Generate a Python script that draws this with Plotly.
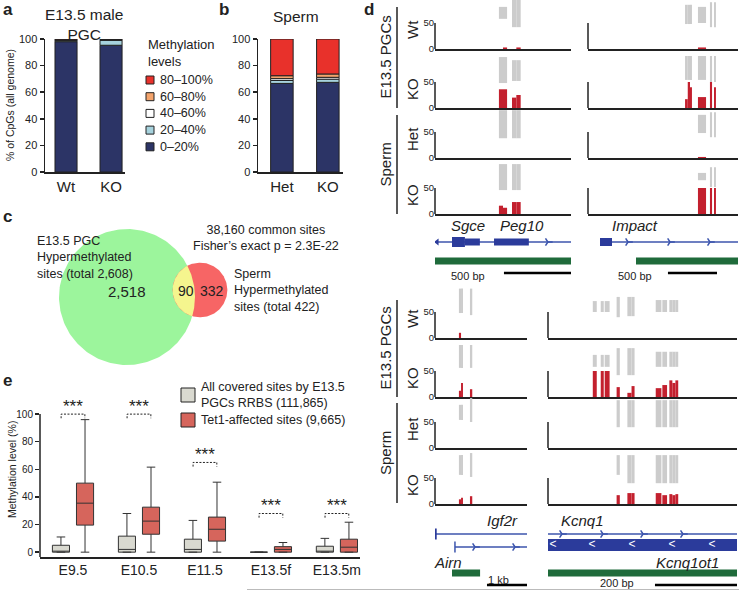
import numpy as np
import plotly.graph_objects as go

W, H = 739, 591
FONT = "Liberation Sans, Arial, sans-serif"
INK = "#222222"
BLUE = "#2b3b9b"
BLUE_LINE = "#3c55ad"
GREEN = "#1f6b3b"
TRACK_RED = "#c3202e"
TRACK_GREY = "#cccccc"

# ---------------- a / b : methylation level distribution ----------------
levels = ["0–20%", "20–40%", "40–60%", "60–80%", "80–100%"]
level_colors = ["#2c3466", "#a6d2dd", "#ffffff", "#f4a46c", "#e8312b"]
pgc_groups = ["Wt", "KO"]
pgc_pct = [[98.0, 95.3], [1.0, 3.7], [0.3, 0.4], [0.2, 0.2], [0.5, 0.4]]
sperm_groups = ["Het", "KO"]
sperm_pct = [[66.6, 67.4], [2.2, 2.4], [1.4, 1.4], [2.2, 2.5], [27.6, 26.3]]

# ---------------- c : venn ----------------
pgc_hyper_total = 2608
sperm_hyper_total = 422
hyper_overlap = 90

# ---------------- e : box plot ----------------
stages = ["E9.5", "E10.5", "E11.5", "E13.5f", "E13.5m"]
all_lo = [0, 0, 0, 0, 0]
all_q1 = [0, 0, 0, 0, 0]
all_med = [0, 2, 2, 0, 0.5]
all_q3 = [5, 11.6, 9.4, 0, 4.3]
all_hi = [11, 28, 23, 0, 10]
tet_lo = [0, 0, 0, 0, 0]
tet_q1 = [19.6, 13, 8, 0, 0]
tet_med = [35.5, 22.5, 16.6, 2, 3.6]
tet_q3 = [50, 32.6, 25.4, 4, 9.4]
tet_hi = [96, 61.6, 50.7, 7, 21.7]
sig_level = [100, 100, 65, 28, 28]
box_legend = ["All covered sites by E13.5<br>PGCs RRBS (111,865)", "Tet1-affected sites (9,665)"]

# ---------------- d : genome browser tracks ----------------
track_names = ["Wt", "KO", "Het", "KO"]
# CpG blocks (start, end) in % of window; grey = coverage, red = methylation
sgce_sites = [(47, 50), (50, 53), (56.6, 59.8), (59.8, 63)]
sgce_grey_top = [[81, 81, 100, 100], [98, 98, 92, 92], [92, 92, 92, 92], [96, 96, 96, 96]]
sgce_grey_bot = [[58, 58, 42, 42], [48, 48, 52, 52], [38, 38, 38, 38], [46, 46, 46, 46]]
sgce_red = [[0, 3, 0, 3], [36, 36, 20, 25], [0, 0, 0, 0], [16, 12, 23, 23]]

impact_sites = [(64.7, 66.5), (66.5, 68), (68, 69.3), (73.3, 78.7), (81.3, 82.7), (84, 85.3)]
impact_grey_top = [[85, 85, 85, 81, 90, 90], [100, 100, 100, 100, 100, 100],
                   [0, 0, 0, 83, 88, 88], [0, 0, 0, 79, 90, 90]]
impact_grey_bot = [[48, 48, 48, 50, 42, 42], [54, 54, 54, 54, 50, 50],
                   [0, 0, 0, 48, 40, 40], [0, 0, 0, 65, 52, 52]]
impact_red = [[0, 0, 0, 3, 0, 0], [17, 50, 40, 21, 50, 40], [0, 0, 0, 2, 0, 0], [0, 0, 0, 50, 50, 50]]

igf2r_sites = [(26, 28.3), (28.3, 30.4), (38, 40.5)]
igf2r_grey_top = [[95, 95, 95], [100, 100, 100], [83, 83, 96], [94, 94, 98]]
igf2r_grey_bot = [[48, 48, 44], [56, 56, 56], [54, 54, 50], [56, 56, 52]]
igf2r_red = [[10, 0, 0], [12, 27, 15], [0, 0, 0], [9, 12, 15]]

kcnq1_sites = [(23.7, 25.8), (27.9, 29.5), (30, 32.6), (36.3, 38), (42, 44.2), (44.2, 45.8),
               (57, 60), (60.5, 63), (64.2, 65.8), (65.8, 67.4), (67.4, 68.9)]
kcnq1_grey_top = [[71, 71, 71, 79, 79, 79, 73, 73, 73, 73, 73],
                  [81, 81, 81, 94, 94, 94, 87, 87, 87, 87, 87],
                  [0, 0, 0, 92, 92, 92, 92, 92, 92, 92, 92],
                  [0, 0, 0, 94, 94, 94, 94, 94, 94, 94, 94]]
kcnq1_grey_bot = [[50, 50, 50, 40, 42, 42, 50, 50, 50, 50, 50],
                  [58, 58, 58, 42, 42, 42, 58, 58, 58, 58, 58],
                  [0, 0, 0, 40, 40, 40, 40, 40, 40, 40, 40],
                  [0, 0, 0, 56, 40, 40, 40, 40, 40, 40, 40]]
kcnq1_red = [[0] * 11,
             [50, 50, 50, 19, 8, 21, 17, 23, 32, 27, 32],
             [0] * 11,
             [0, 0, 0, 17, 21, 21, 21, 17, 19, 17, 19]]

# gene models (start, end in % of window)
sgce_intron = [(0, 100)]
sgce_cds = [(12.5, 22)]
sgce_utr = [(22, 33), (43.4, 69)]
sgce_fwd_arrows = [83]
impact_intron = [(16, 100)]
impact_cds = [(8, 16)]
impact_fwd_arrows = [26.7, 54.7, 81.3]
igf2r_intron = [(0, 100)]
airn_intron = [(21.7, 100)]
airn_fwd_arrows = [43.5, 87]
kcnq1_intron = [(0, 100)]
kcnq1_fwd_arrows = [7.4, 29.1, 50.3, 71.4]
kcnq1ot1_exon = [(0, 100)]
kcnq1ot1_rev_arrows = [2.6, 23.3, 44.4, 65.6, 86.8]

fig = go.Figure()


def px_x(a, b):
    return [max(a / W, 0), min(b / W, 1)]


def px_y(top, bottom):
    return [max(1 - bottom / H, 0), min(1 - top / H, 1)]


n_ax = 0


def add_axes(xdom, ydom, xaxis=None, yaxis=None):
    global n_ax
    n_ax += 1
    s = "" if n_ax == 1 else str(n_ax)
    base = dict(showgrid=False, zeroline=False, visible=False, automargin=False)
    xa = dict(domain=px_x(*xdom), anchor="y" + s, **base)
    ya = dict(domain=px_y(*ydom), anchor="x" + s, **base)
    xa.update(xaxis or {})
    ya.update(yaxis or {})
    fig.update_layout({"xaxis" + s: xa, "yaxis" + s: ya})
    return "x" + s, "y" + s


def note(text, x, y, size=12, ax=None, **kw):
    if ax is None:
        d = dict(xref="paper", yref="paper", x=x / W, y=1 - y / H)
    else:
        d = dict(xref=ax[0], yref=ax[1], x=x, y=y)
    d.update(dict(text=text, showarrow=False, xanchor="center", yanchor="middle",
                  font=dict(size=size, color=INK, family=FONT)))
    d.update(kw)
    fig.add_annotation(**d)


def legend_box(xdom, ydom, names, colors, ys, x_sym, x_txt, size, fs):
    # hand-made legend: squares + labels, axis in pixel units
    ax = add_axes(xdom, ydom, dict(range=list(xdom)), dict(range=[ydom[1], ydom[0]]))
    fig.add_scatter(x=[x_sym] * len(ys), y=ys, mode="markers",
                    marker=dict(symbol="square", size=size, color=colors, line=dict(color=INK, width=1)),
                    xaxis=ax[0], yaxis=ax[1], showlegend=False, hoverinfo="skip")
    for nm, y in zip(names, ys):
        note(nm, x_txt, y, fs, ax=ax, xanchor="left", align="left")
    return ax


# ---------------- a & b ----------------
def stacked_panel(xdom, groups, pct, xrange):
    ax = add_axes(
        xdom, (39, 172),
        dict(visible=True, range=xrange, showline=True, linecolor=INK, linewidth=1.5, ticks="",
             tickvals=[0, 1], ticktext=groups, tickfont=dict(size=15, color=INK, family=FONT)),
        dict(visible=True, range=[0, 100], showline=True, linecolor=INK, linewidth=1.5,
             ticks="outside", ticklen=4, tickwidth=1.5, tickcolor=INK,
             tickvals=[0, 20, 40, 60, 80, 100], tickfont=dict(size=11, color=INK, family=FONT)))
    base = np.zeros(len(groups))
    for name, col, vals in zip(levels, level_colors, pct):
        fig.add_bar(x=[0, 1], y=vals, base=base.tolist(), width=0.49,
                    marker=dict(color=col, line=dict(color=INK, width=1)),
                    name=name, showlegend=False, xaxis=ax[0], yaxis=ax[1], hoverinfo="skip")
        base += np.array(vals)
    return ax


stacked_panel((45, 125), pgc_groups, pgc_pct, [-0.467, 1.31])
stacked_panel((258, 343), sperm_groups, sperm_pct, [-0.52, 1.33])

legend_box((140, 240), (38, 160), levels[::-1], level_colors[::-1], [80, 96.7, 113.4, 130.1, 146.8],
           150, 158, 8, 12.5)
note("Methylation<br>levels", 146, 53, 13, xanchor="left", align="left")

note("<b>a</b>", 1, 9, 17, xanchor="left")
note("<b>b</b>", 224, 9, 17)
note("E13.5 male<br>PGC", 84, 24, 15.5)
note("Sperm", 296, 16, 15.5)
note("% of CpGs (all genome)", 10, 105, 10.5, textangle=-90)

# ---------------- c : venn ----------------
vx = add_axes((0, 380), (195, 375), dict(range=[0, 380]), dict(range=[375, 195]))
k = 68 / np.sqrt(pgc_hyper_total)
r1 = k * np.sqrt(pgc_hyper_total)
r2 = k * np.sqrt(sperm_hyper_total)
c1 = np.array([127.0, 297.0])
c2 = np.array([200.0, 290.0])
t = np.linspace(0, 2 * np.pi, 240)
for c, r, col in [(c1, r1, "#9cf59c"), (c2, r2, "#f76565")]:
    fig.add_scatter(x=c[0] + r * np.cos(t), y=c[1] + r * np.sin(t), fill="toself", fillcolor=col,
                    mode="lines", line=dict(width=0), xaxis=vx[0], yaxis=vx[1],
                    showlegend=False, hoverinfo="skip")
d = np.linalg.norm(c2 - c1)
phi = np.arctan2(*(c2 - c1)[::-1])
a_ = (r1 ** 2 - r2 ** 2 + d ** 2) / (2 * d)
h_ = np.sqrt(r1 ** 2 - a_ ** 2)
al1 = np.arctan2(h_, a_)
al2 = np.arctan2(h_, d - a_)
arc1 = np.linspace(phi - al1, phi + al1, 60)
arc2 = np.linspace(phi + np.pi - al2, phi + np.pi + al2, 60)
lx = np.concatenate([c1[0] + r1 * np.cos(arc1), c2[0] + r2 * np.cos(arc2)])
ly = np.concatenate([c1[1] + r1 * np.sin(arc1), c2[1] + r2 * np.sin(arc2)])
fig.add_scatter(x=lx, y=ly, fill="toself", fillcolor="#f5f58e", mode="lines", line=dict(width=0),
                xaxis=vx[0], yaxis=vx[1], showlegend=False, hoverinfo="skip")

note("<b>c</b>", 1, 216, 17, xanchor="left")
note("E13.5 PGC<br>Hypermethylated<br>sites (total {:,})".format(pgc_hyper_total), 35, 257, 12.5,
     xanchor="left", align="left")
note("38,160 common sites<br>Fisher’s exact p = 2.3E-22", 266, 238, 12.5)
note("Sperm<br>Hypermethylated<br>sites (total {:,})".format(sperm_hyper_total), 232, 290, 12.5,
     xanchor="left", align="left")
note("{:,}".format(pgc_hyper_total - hyper_overlap), 127, 291, 15)
note(str(hyper_overlap), 186, 291, 14)
note(str(sperm_hyper_total - hyper_overlap), 212, 291, 14)

# ---------------- e : box plot ----------------
ex = add_axes(
    (40, 360), (397, 557),
    dict(visible=True, range=[-0.5, 4.35], showline=True, linecolor=INK, linewidth=1.5, ticks="",
         tickvals=list(range(5)), ticktext=stages, tickfont=dict(size=14, color=INK, family=FONT)),
    dict(visible=True, range=[-3.5, 112.4], showline=False, ticks="outside", ticklen=4, tickwidth=1.5,
         tickcolor=INK, tickvals=[0, 20, 40, 60, 80, 100], tickfont=dict(size=10, color=INK, family=FONT)))
fig.add_shape(type="line", xref=ex[0] + " domain", yref=ex[1], x0=0, x1=0, y0=-3.5, y1=100,
              line=dict(color=INK, width=1.5))
fig.add_box(x=list(range(5)), lowerfence=all_lo, q1=all_q1, median=all_med, q3=all_q3, upperfence=all_hi,
            fillcolor="#d9d9d0", line=dict(color="#333333", width=1), whiskerwidth=0.5,
            name=box_legend[0], offsetgroup="all", showlegend=False,
            xaxis=ex[0], yaxis=ex[1], hoverinfo="skip")
fig.add_box(x=list(range(5)), lowerfence=tet_lo, q1=tet_q1, median=tet_med, q3=tet_q3, upperfence=tet_hi,
            fillcolor="#d6655c", line=dict(color="#333333", width=1), whiskerwidth=0.5,
            name=box_legend[1], offsetgroup="tet", showlegend=False,
            xaxis=ex[0], yaxis=ex[1], hoverinfo="skip")
bx, by = [], []
for i, lv in enumerate(sig_level):
    bx += [i - 0.18, i - 0.18, i + 0.18, i + 0.18, None]
    by += [lv - 3, lv, lv, lv - 3, None]
    note("***", i, lv + 5.5, 17, ax=ex)
fig.add_scatter(x=bx, y=by, mode="lines", line=dict(color=INK, width=1, dash="2px,1.5px"),
                xaxis=ex[0], yaxis=ex[1], showlegend=False, hoverinfo="skip")
legend_box((175, 375), (380, 430), box_legend, ["#d9d9d0", "#d6655c"], [395, 420], 188, 199, 14, 12.5)
note("<b>e</b>", 1, 380, 17, xanchor="left")
note("Methylation level (%)", 12, 470, 10.5, textangle=-90)

# ---------------- d : tracks ----------------
top_base = [49, 108, 158, 214]
bot_base = [338, 397, 448, 504]
PXU = 0.52  # px per % methylation


def locus(xdom, baselines, sites, gtop, gbot, red, ticklabels):
    centers = [(s + e) / 2 for s, e in sites]
    widths = [e - s for s, e in sites]
    for i, b in enumerate(baselines):
        top = max(b - 52, 0)
        ax = add_axes(
            xdom, (top, b),
            dict(visible=True, range=[0, 100], showline=True, linecolor=INK, linewidth=1.5,
                 ticks="", showticklabels=False),
            dict(visible=True, range=[0, (b - top) / PXU], showline=False, ticks="",
                 tickvals=[0, 50], showticklabels=ticklabels,
                 tickfont=dict(size=9.5, color=INK, family=FONT)))
        fig.add_bar(x=centers, y=[p - q for p, q in zip(gtop[i], gbot[i])], base=gbot[i], width=widths,
                    marker=dict(color=TRACK_GREY, line=dict(width=0)),
                    xaxis=ax[0], yaxis=ax[1], showlegend=False, hoverinfo="skip")
        fig.add_bar(x=centers, y=red[i], width=widths, marker=dict(color=TRACK_RED, line=dict(width=0)),
                    xaxis=ax[0], yaxis=ax[1], showlegend=False, hoverinfo="skip")
        fig.add_shape(type="line", xref=ax[0] + " domain", yref=ax[1], x0=0, x1=0, y0=0, y1=50,
                      line=dict(color=INK, width=1.5))


locus((435, 571), top_base, sgce_sites, sgce_grey_top, sgce_grey_bot, sgce_red, True)
locus((588, 738), top_base, impact_sites, impact_grey_top, impact_grey_bot, impact_red, False)
locus((435, 527), bot_base, igf2r_sites, igf2r_grey_top, igf2r_grey_bot, igf2r_red, True)
locus((548, 737), bot_base, kcnq1_sites, kcnq1_grey_top, kcnq1_grey_bot, kcnq1_red, False)

note("<b>d</b>", 369, 9, 17)
for base_list in (top_base, bot_base):
    for name, b in zip(track_names, base_list):
        note(name, 412, b - 19, 15, textangle=-90)
for label, y0, y1 in [("E13.5 PGCs", 7, 108), ("Sperm", 115, 214), ("E13.5 PGCs", 300, 397),
                      ("Sperm", 403, 503)]:
    note(label, 385, (y0 + y1) / 2, 15, textangle=-90)
    fig.add_shape(type="line", xref="paper", yref="paper", x0=397 / W, x1=397 / W,
                  y0=1 - y0 / H, y1=1 - y1 / H, line=dict(color=INK, width=1.5))


def seg_trace(ax, spans, y, color, width):
    xs, ys = [], []
    for s, e in spans:
        xs += [s, e, None]
        ys += [y, y, None]
    fig.add_scatter(x=xs, y=ys, mode="lines", line=dict(color=color, width=width),
                    xaxis=ax[0], yaxis=ax[1], showlegend=False, hoverinfo="skip")


def marks(ax, xs, y, symbol, color, size, lw=1.5):
    fig.add_scatter(x=xs, y=[y] * len(xs), mode="markers",
                    marker=dict(symbol=symbol, size=size, color=color, line=dict(color=color, width=lw)),
                    xaxis=ax[0], yaxis=ax[1], showlegend=False, hoverinfo="skip")


# Sgce / Peg10
ga = add_axes((435, 571), (216, 290), dict(range=[0, 100]), dict(range=[290, 216]))
note("<i>Sgce</i>", 24, 225, 15, ax=ga)
note("<i>Peg10</i>", 64, 225, 15, ax=ga)
seg_trace(ga, sgce_intron, 242, BLUE_LINE, 1.5)
seg_trace(ga, sgce_cds, 242, BLUE, 10)
seg_trace(ga, sgce_utr, 242, BLUE, 7)
marks(ga, [1.5], 242, "triangle-left", BLUE, 6, 0)
marks(ga, sgce_fwd_arrows, 242, "y-right", BLUE_LINE, 6)
seg_trace(ga, [(0, 100)], 261, GREEN, 7)
seg_trace(ga, [(50.7, 100)], 273, "black", 2.5)
note("500 bp", 24, 276, 11, ax=ga)

# Impact
gb = add_axes((588, 738), (216, 290), dict(range=[0, 100]), dict(range=[290, 216]))
note("<i>Impact</i>", 31, 225, 15, ax=gb)
seg_trace(gb, impact_intron, 242, BLUE_LINE, 1.5)
seg_trace(gb, impact_cds, 242, BLUE, 8)
marks(gb, impact_fwd_arrows, 242, "y-right", BLUE_LINE, 6)
seg_trace(gb, [(32, 100)], 261, GREEN, 7)
seg_trace(gb, [(53.3, 86)], 273, "black", 2.5)
note("500 bp", 31, 276, 11, ax=gb)

# Igf2r / Airn
gc = add_axes((435, 527), (506, 591), dict(range=[0, 100]), dict(range=[591, 506]))
note("<i>Igf2r</i>", 73, 520, 15, ax=gc)
seg_trace(gc, igf2r_intron, 534, BLUE_LINE, 1.5)
marks(gc, [0.5], 534, "line-ns", BLUE, 8, 2.5)
seg_trace(gc, airn_intron, 547, BLUE_LINE, 1.5)
marks(gc, [21.7], 547, "line-ns", BLUE_LINE, 8, 1.5)
marks(gc, airn_fwd_arrows, 547, "y-right", BLUE_LINE, 6)
note("<i>Airn</i>", 14, 562, 15, ax=gc)
seg_trace(gc, [(18.5, 49)], 573, GREEN, 7)
seg_trace(gc, [(56.5, 100)], 585, "black", 2.5)
note("1 kb", 68.5, 580, 11, ax=gc)

# Kcnq1 / Kcnq1ot1
gd = add_axes((548, 737), (506, 591), dict(range=[0, 100]), dict(range=[591, 506]))
note("<i>Kcnq1</i>", 18.5, 520, 15, ax=gd)
seg_trace(gd, kcnq1_intron, 534, BLUE_LINE, 1.5)
marks(gd, kcnq1_fwd_arrows, 534, "y-right", BLUE_LINE, 6)
seg_trace(gd, kcnq1ot1_exon, 545, BLUE, 12)
fig.add_scatter(x=kcnq1ot1_rev_arrows, y=[545] * len(kcnq1ot1_rev_arrows), mode="text", text=["<"] * 5,
                textfont=dict(color="white", size=12, family=FONT), xaxis=gd[0], yaxis=gd[1],
                showlegend=False, hoverinfo="skip")
note("<i>Kcnq1ot1</i>", 74, 562, 15, ax=gd)
seg_trace(gd, [(0, 100)], 573, GREEN, 7)
seg_trace(gd, [(56.6, 100)], 585, "black", 2.5)
note("200 bp", 36.5, 583, 11, ax=gd)

fig.add_shape(type="line", xref="paper", yref="paper", x0=247 / W, x1=1, y0=1 - 589.5 / H, y1=1 - 589.5 / H,
              line=dict(color="#bbbbbb", width=1))

fig.update_layout(
    template="none",
    width=W, height=H, autosize=False, margin=dict(l=0, r=0, t=0, b=0, pad=0),
    paper_bgcolor="white", plot_bgcolor="rgba(0,0,0,0)",
    font=dict(family=FONT, color=INK),
    barmode="overlay", boxmode="group", boxgap=0.27, boxgroupgap=0.29,
    showlegend=False, hovermode=False,
)

# the page body has a default 8px margin; drop it so the figure sits at the window origin
fig.write_html("out.html", config={"displayModeBar": False, "staticPlot": True},
               post_script="document.body.style.margin = '0';")
